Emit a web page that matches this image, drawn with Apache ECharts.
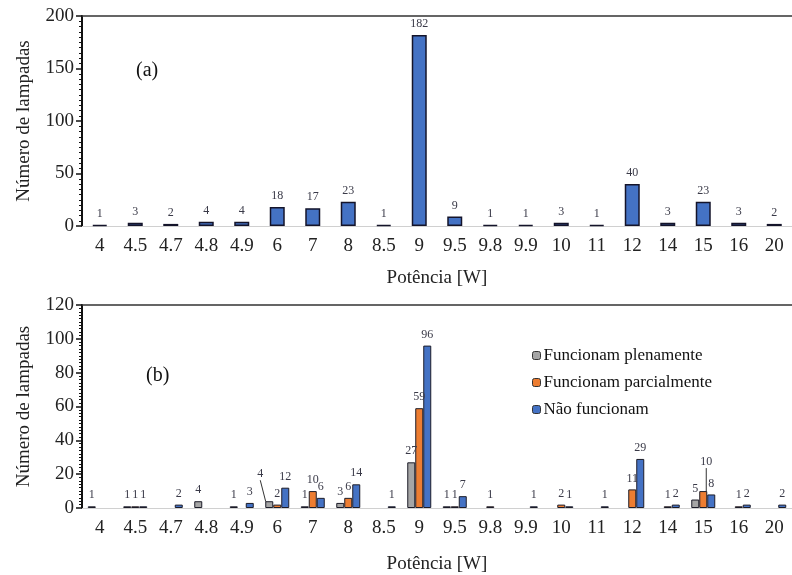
<!DOCTYPE html>
<html>
<head>
<meta charset="utf-8">
<script src="https://cdn.jsdelivr.net/npm/echarts@6/dist/echarts.min.js"></script>
<style>
  html, body { margin: 0; padding: 0; background: #ffffff; }
  #chart { width: 792px; height: 575px; }
</style>
</head>
<body>
<div id="chart"></div>
<script>
// Lamp power classes (W)
const potencias = ['4','4.5','4.7','4.8','4.9','6','7','8','8.5','9','9.5','9.8','9.9','10','11','12','14','15','16','20'];
// (a) total number of lamps per power class
const totalLampadas = [1,3,2,4,4,18,17,23,1,182,9,1,1,3,1,40,3,23,3,2];
// (b) breakdown by operating condition
const plenamente   = [1,1,0,4,1,4,1,3,0,27,1,0,0,0,0,0,0,5,0,0];
const parcialmente = [0,1,0,0,0,2,10,6,0,59,1,1,0,2,0,11,1,10,1,0];
const naoFuncionam = [0,1,2,0,3,12,6,14,1,96,7,0,1,1,1,29,2,8,2,2];
const seriesNames = ['Funcionam plenamente', 'Funcionam parcialmente', 'Não funcionam'];

const FONT = "'Liberation Serif', 'Times New Roman', serif";
const chart = echarts.init(document.getElementById('chart'), null, { renderer: 'canvas' });

function catAxis(gridIndex, nameGap) {
  return {
    type: 'category', gridIndex, data: potencias,
    axisLine: { lineStyle: { color: '#d0d0d0', width: 1 } },
    axisTick: { show: false },
    axisLabel: { fontFamily: FONT, fontSize: 19, color: '#222', margin: 11 },
    name: 'Potência [W]', nameLocation: 'middle', nameGap,
    nameTextStyle: { fontFamily: FONT, fontSize: 19, color: '#222' }
  };
}
function topBorder(gridIndex) {
  return {
    type: 'category', gridIndex, data: potencias, position: 'top',
    axisLine: { lineStyle: { color: '#333', width: 1.5 } },
    axisTick: { show: false }, axisLabel: { show: false }
  };
}
function valAxis(gridIndex, max, interval) {
  return {
    type: 'value', gridIndex, min: 0, max, interval,
    axisLine: { show: true, lineStyle: { color: '#111', width: 2 } },
    axisTick: { show: true, length: 6, lineStyle: { color: '#111', width: 1.5 } },
    minorTick: { show: true, splitNumber: 10, length: 3, lineStyle: { color: '#111' } },
    splitLine: { show: false },
    axisLabel: { fontFamily: FONT, fontSize: 19, color: '#222', margin: 8 },
    name: 'Número de lampadas', nameLocation: 'middle', nameRotate: 90, nameGap: 48,
    nameTextStyle: { fontFamily: FONT, fontSize: 19, color: '#222' }
  };
}

const valueLabel = {
  show: true, position: 'top', distance: 5,
  fontFamily: FONT, fontSize: 12, color: '#3a3a48'
};

// labels lifted off their bars and tied back with a leader line
const liftedLabels = {
  'Funcionam plenamente|6': { dx: -9, dy: -16 },
  'Funcionam parcialmente|15': { dx: 3, dy: -18 }
};

const colors = ['#a5a5a5', '#ed7d31', '#4472c4'];
const groupData = [plenamente, parcialmente, naoFuncionam];

const breakdownSeries = seriesNames.map((name, i) => ({
  name, type: 'bar', xAxisIndex: 1, yAxisIndex: 1,
  // empty classes draw no bar and no label
  data: groupData[i].map((v, j) => {
    if (v === 0) return null;
    const lifted = liftedLabels[name + '|' + potencias[j]];
    return lifted ? { value: v, labelLine: { show: true } } : v;
  }),
  barWidth: 8, barGap: '0%',
  itemStyle: { color: colors[i], borderColor: '#1c1c28', borderWidth: 1 },
  label: valueLabel,
  labelLine: { show: false, lineStyle: { color: '#333', width: 1 } },
  labelLayout: p => liftedLabels[name + '|' + potencias[p.dataIndex]] || {}
}));

chart.setOption({
  animation: false,
  backgroundColor: '#ffffff',
  textStyle: { fontFamily: FONT },
  title: [
    { text: '(a)', left: 131, top: 56, textStyle: { fontFamily: FONT, fontSize: 20, fontWeight: 'normal', color: '#111' } },
    { text: '(b)', left: 141, top: 361, textStyle: { fontFamily: FONT, fontSize: 20, fontWeight: 'normal', color: '#111' } }
  ],
  legend: {
    data: seriesNames, orient: 'vertical', left: 527, top: 342,
    itemWidth: 8, itemHeight: 8, itemGap: 10,
    itemStyle: { borderColor: '#333', borderWidth: 1 },
    textStyle: { fontFamily: FONT, fontSize: 17, color: '#111', lineHeight: 17, padding: [0, 0, 0, -2] }
  },
  grid: [
    { left: 82, top: 16, width: 714, height: 210 },
    { left: 82, top: 305, width: 714, height: 210 }
  ],
  xAxis: [catAxis(0, 43), catAxis(1, 47), topBorder(0), topBorder(1)],
  yAxis: [valAxis(0, 200, 50), valAxis(1, 120, 20)],
  series: [
    {
      name: 'Total', type: 'bar', xAxisIndex: 0, yAxisIndex: 0,
      data: totalLampadas, barWidth: 15,
      itemStyle: { color: '#4472c4', borderColor: '#14142a', borderWidth: 1.5 },
      label: valueLabel
    },
    ...breakdownSeries
  ]
});
</script>
</body>
</html>
